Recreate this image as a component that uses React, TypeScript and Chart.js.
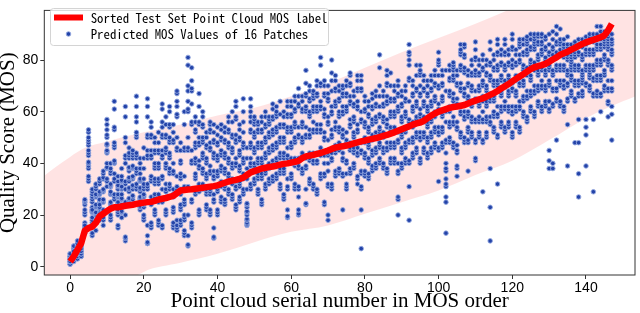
import React, { useEffect, useRef } from "react";
import { Chart, registerables } from "chart.js";

Chart.register(...registerables);

// Sorted MOS label of each test point cloud (index = serial number in MOS order)
const mosLabels: number[] = [
  2, 4, 6.5, 9, 14, 15, 15.5, 17, 19.5, 20.5, 21.5, 22.5, 23, 23, 23.3, 23.6, 23.8, 24, 24.3, 24.6,
  24.8, 25, 25.1, 25.5, 26, 26.3, 26.6, 27, 27.4, 28.5, 29.5, 29.7, 29.9, 30, 30.2, 30.4, 30.6, 30.8, 31, 31.2,
  31.5, 32, 32.5, 33, 33.3, 33.6, 34, 34.5, 35.5, 36.5, 37, 37.5, 38, 38.3, 38.6, 38.8, 39.1, 39.5, 39.8, 40,
  40.3, 40.6, 41, 42, 42.7, 43, 43.3, 43.7, 44, 44.5, 45, 45.6, 46.1, 46.4, 46.6, 46.9, 47.3, 47.7, 48.1, 48.5,
  48.8, 49.2, 49.5, 49.8, 50.2, 50.6, 51, 51.5, 52, 52.6, 53.2, 53.8, 54.3, 55, 55.5, 55.8, 56.5, 57.5, 58.5, 59.3,
  60, 60.5, 61, 61.5, 61.8, 62, 62.3, 62.6, 63.2, 63.8, 64.3, 64.8, 65.2, 65.8, 66.5, 67.2, 68, 69, 69.8, 70.7,
  71.7, 72.7, 73.6, 74.5, 75.5, 76.5, 77.2, 77.6, 78, 78.5, 79.3, 80.2, 81, 82, 82.6, 83.2, 84, 84.7, 85.5, 86.2,
  86.8, 87.3, 87.8, 88.3, 88.8, 89.5, 91.5, 94,
];

// Predicted MOS of the 16 patches of each point cloud
const patchScores: number[][] = [
  [1,1,2,2,2,3,3,3,3,4,4,4,5,5,2,3],
  [2,3,3,4,4,5,5,5,6,6,7,7,8,8,4,6],
  [3,4,4,5,5,6,6,7,7,8,8,9,9,10,6,7],
  [4,4,5,5,6,7,7,8,8,9,9,10,10,6,7,8],
  [13,13.5,14,15,15.5,16,17,20,21,22,24,25,25.5,26,15,16],
  [33,34,35,38,39,40,40.5,43,44,45,47,48,49,50,52,53],
  [12,13,17,18,19,21,21.5,22,23,25,26,27,28,29,30,22],
  [14,17,18,20,20.5,21,23,23.5,24,27,27.5,28,30,31,32,21],
  [18,20,20.5,22,22.5,23,25,25.5,26,28,28.5,29,32,33,34,24],
  [16,18,19,21,21.5,22,25,25.5,26,29,29.5,30,34,34.5,36,37],
  [31,33,34,38,38.5,40,44,44.5,45,47,47.5,50,51,53,55,57],
  [18,19,20,24,24.5,25,28,28.5,29,31,31.5,32,36,37,38,40],
  [26,27,28,33,34,36,40,40.5,41,46,47,48,53,54,61,64],
  [15,16,20,21,22,24,24.5,25,27,27.5,28,30,31,31.5,33,35],
  [19,21,21.5,23,23.5,24,26,26.5,28,30,30.5,31,33,33.5,35,38],
  [10,11,11.5,20,24,25,30,32,33,40,42,43,48,50,58,62],
  [25,26,26.5,29,30,30.5,33,34,34.5,37,38,38.5,42,43,44,46],
  [26,27,27.5,30,31,31.5,34,34.5,35,38,38.5,39,42,43,44,45],
  [30,31,32,36,37,38,42,43,44,50,51,52,56,58,62,66],
  [22,23,23.5,26,26.5,27,29,30,30.5,33,33.5,34,36,38,40,42],
  [18,19,20,23,24,24.5,27,27.5,28,30,31,32,34,38,42,46],
  [9,9,9.5,12,16,30,31,32,42,43,45,50,51,58,62,65],
  [15,16,17,24,25,27,33,34,35,42,43,45,50,51,54,56],
  [20,21,22,26,27,28,32,33,34,38,39,40,44,45,48,50],
  [16,17,18,25,26,28,32,33,34,38,39,40,44,45,48,52],
  [15,16,25,26,30,34,35,42,43,45,50,51,54,56,61,63],
  [20,21,22,29,30,32,38,39,40,44,45,46,50,51,55,58],
  [30,31,32,36,37,38,42,43,44,48,49,50,54,55,60,62],
  [15,16,17,21,22,23,27,28,30,36,37,40,48,49,52,55],
  [14,15,16,18,30,31,35,45,46,50,58,59,62,64,67,68],
  [16,17,18,22,23,24,28,29,30,34,35,36,40,41,45,48],
  [12,13,14,18,19,20,24,25,26,30,31,35,45,46,55,60],
  [8,8.5,12,20,30,31,45,46,50,60,61,64,68,70,78,81],
  [15,16,17,25,26,30,40,41,45,55,56,63,68,69,72,77],
  [28,29,30,34,35,36,40,41,42,46,47,48,52,53,56,58],
  [20,21,22,29,30,32,38,39,41,47,48,50,55,56,62,67],
  [30,31,32,36,37,38,42,43,44,48,49,50,54,55,58,60],
  [22,23,24,28,29,30,34,35,36,40,41,42,46,47,50,52],
  [20,21,22,28,29,30,36,37,39,45,46,48,52,53,55,56],
  [11,11.5,15,25,26,28,34,35,37,42,43,44,48,49,52,55],
  [20,21,22,29,30,31,35,36,37,41,42,43,47,48,51,54],
  [25,26,27,31,32,33,37,38,39,43,44,45,49,50,53,55],
  [24,25,26,30,31,32,36,37,38,42,43,44,48,49,52,54],
  [28,29,30,34,35,36,40,41,42,46,47,48,52,53,56,58],
  [26,27,28,32,33,34,38,39,40,44,45,46,50,51,56,60],
  [22,23,24,30,31,33,39,40,42,48,49,51,57,58,62,64],
  [25,26,27,31,32,33,37,38,39,43,44,45,49,50,53,55],
  [28,29,30,34,35,36,40,41,42,46,47,48,52,56,60,65],
  [16,16.5,17,18,18.5,20,21,21.5,23,24,24.5,30,34,38,42,46],
  [30,31,32,39,40,42,46,47,48,52,53,56,58,60,62,65],
  [32,33,34,38,39,40,44,45,46,50,51,52,55,56,57,58],
  [28,29,30,34,35,36,40,41,42,46,47,48,52,53,55,56],
  [24,25,26,34,35,36,40,41,42,46,47,48,52,53,56,58],
  [30,31,32,36,37,38,42,43,44,48,49,50,54,55,58,60],
  [32,33,34,38,39,40,44,45,46,50,51,52,55,56,57,58],
  [33,34,35,39,40,41,45,46,47,51,52,53,57,58,61,63],
  [34,35,36,40,41,42,46,47,48,52,53,54,58,59,60,62],
  [30,31,32,36,37,38,42,43,44,48,49,50,54,55,59,64],
  [26,27,28,36,37,38,42,43,44,48,49,50,54,55,58,60],
  [19,19.5,22,30,31,34,42,43,46,52,53,54,58,59,62,64],
  [34,35,36,40,41,42,46,47,48,52,53,54,58,59,62,64],
  [30,31,32,39,40,42,48,49,50,54,55,56,60,61,64,66],
  [20,20.5,22,27,30,31,38,39,42,50,51,54,62,63,66,69],
  [36,37,38,42,43,44,48,49,50,54,55,56,60,61,64,66],
  [24,24.5,30,38,39,42,50,51,54,60,61,62,66,67,71,76],
  [32,33,34,41,42,44,50,51,53,58,59,60,64,65,68,70],
  [30,31,32,40,41,44,52,53,56,60,61,62,65,66,67,68],
  [28,29,30,40,41,44,52,53,55,60,61,62,66,67,70,72],
  [34,35,36,43,44,46,52,53,55,61,62,64,70,71,78,81],
  [24,25,35,36,40,43,49,50,52,58,59,61,66,67,70,72],
  [18,20,31,32,37,40,43,44,49,55,56,58,64,65,67,70],
  [30,31,32,41,42,44,50,51,53,59,60,62,68,72,75,80],
  [35,36,37,44,45,47,53,54,56,62,63,64,68,69,72,74],
  [36,37,38,45,46,48,52,53,54,58,59,60,64,65,68,70],
  [22,35,36,41,42,44,50,51,53,59,60,62,66,67,69,70],
  [30,31,32,36,40,41,48,49,52,60,61,62,66,67,70,72],
  [36,37,38,45,46,48,54,55,57,63,64,66,70,71,74,75],
  [38,39,40,44,45,46,50,51,52,56,57,58,62,63,66,68],
  [32,34,35,43,44,46,52,53,55,61,62,64,68,69,72,74],
  [7,22,30,31,36,37,44,45,48,56,57,60,68,69,72,74],
  [35,36,37,42,43,44,48,49,50,54,55,56,60,61,64,66],
  [34,35,36,40,41,42,46,47,48,52,53,54,58,59,62,64],
  [37,38,39,43,44,45,49,50,51,55,56,57,61,62,65,67],
  [38,39,40,44,45,46,50,51,52,56,57,58,62,63,66,68],
  [40,41,42,46,47,48,52,53,54,58,59,62,66,70,77,82],
  [38,39,40,44,45,46,50,51,52,56,57,58,62,63,66,68],
  [36,37,38,45,46,48,54,55,57,63,64,66,70,71,74,76],
  [40,41,42,46,47,48,52,53,54,58,59,60,64,65,70,75],
  [40,41,42,46,47,48,52,53,54,58,59,60,64,65,68,70],
  [20,26,27,36,37,40,48,49,52,60,61,62,66,67,70,72],
  [38,39,40,44,45,46,50,51,52,56,57,58,62,63,66,68],
  [40,41,42,46,47,48,52,53,54,58,59,60,64,65,68,70],
  [18,31,40,41,48,49,56,57,64,72,73,78,80,82,83,86],
  [42,43,44,48,49,50,54,55,56,60,61,62,66,67,70,72],
  [44,45,46,50,51,52,56,57,58,62,63,64,68,69,74,78],
  [40,41,42,49,50,52,58,59,61,66,67,70,74,75,76,78],
  [44,45,46,50,51,52,56,57,58,62,63,64,68,69,72,74],
  [42,43,44,48,49,50,54,55,56,60,61,62,66,67,70,72],
  [44,45,46,50,51,52,56,57,58,62,63,64,68,69,72,74],
  [46,47,48,52,53,54,58,59,60,64,65,66,70,71,74,76],
  [33,45,46,51,52,54,60,61,63,69,70,74,78,79,80,83],
  [46,47,48,52,53,54,58,59,60,64,65,66,70,71,74,76],
  [13,25,27,31,32,34,37,38,40,44,48,49,56,60,68,76],
  [48,49,50,54,55,56,60,61,62,66,67,68,72,73,76,78],
  [46,47,48,55,56,58,64,65,67,72,73,74,76,77,78,79],
  [35,38,39,44,45,47,53,54,56,62,63,65,70,71,74,76],
  [50,51,52,59,60,62,68,69,71,76,77,78,82,83,84,86],
  [48,49,50,57,58,60,66,67,69,75,76,77,81,82,85,86],
  [37,48,49,52,53,54,58,59,60,64,65,66,70,71,74,76],
  [50,51,52,56,57,58,62,63,64,68,69,70,74,75,78,80],
  [41,42,48,49,56,57,64,65,68,74,75,76,80,81,84,87],
  [50,51,52,56,57,58,62,63,64,68,69,70,74,75,78,80],
  [29,48,49,56,57,60,64,65,66,70,71,72,76,77,80,82],
  [50,51,52,56,57,58,62,63,64,68,69,70,74,75,78,80],
  [10,23,38,55,56,58,64,65,67,72,73,74,78,79,84,87],
  [52,53,54,58,59,60,64,65,66,70,71,72,76,77,80,82],
  [32,50,51,58,59,62,70,71,72,76,77,78,82,83,86,88],
  [54,55,56,60,61,62,66,67,68,72,73,74,78,79,82,84],
  [52,53,54,61,62,64,70,71,72,76,77,78,82,83,86,88],
  [54,55,56,60,61,62,66,67,68,72,73,74,78,79,82,84],
  [50,51,52,59,60,62,68,69,71,77,78,80,84,85,88,90],
  [54,55,56,60,61,62,66,67,68,72,73,74,78,79,82,84],
  [52,53,54,61,62,64,70,71,73,79,80,82,85,86,87,88],
  [58,59,60,64,65,66,70,71,72,76,77,78,82,83,86,88],
  [56,57,58,65,66,68,74,75,77,82,83,84,86,87,88,89],
  [60,61,62,66,67,68,72,73,74,78,79,80,84,85,88,90],
  [58,59,60,67,68,70,76,77,79,84,85,86,87,88,89,90],
  [62,63,64,68,69,70,74,75,76,80,81,82,86,87,89,90],
  [60,61,62,69,70,72,76,77,78,82,83,84,86,87,89,90],
  [62,63,64,68,69,70,74,75,76,79,80,81,84,85,88,89],
  [38,41,45,60,61,64,70,71,72,76,77,78,82,83,86,90],
  [38,40,62,63,68,69,74,75,76,80,81,82,84,85,88,91],
  [49,64,65,68,69,72,76,77,78,81,82,83,86,87,90,93],
  [62,63,64,70,71,72,76,77,78,82,83,84,86,87,88,92],
  [60,61,62,69,70,72,76,77,78,81,82,83,84,85,86,88],
  [39,55,64,65,70,71,74,75,76,80,81,82,84,85,86,89],
  [66,67,68,72,73,74,76,77,78,79,80,81,82,83,84,86],
  [48,64,65,70,71,72,76,77,78,81,82,83,84,85,86,87],
  [27,36,48,57,66,67,70,71,72,76,77,78,82,83,86,88],
  [66,67,68,71,72,73,74,75,76,80,81,82,85,86,87,88],
  [39,51,54,57,70,71,76,77,78,82,83,84,86,87,88,89],
  [68,69,70,73,74,75,76,77,78,82,83,84,87,88,89,90],
  [29,57,66,67,72,73,76,77,78,82,83,84,87,88,89,90],
  [66,67,68,72,73,74,78,79,80,84,85,86,88,89,90,93],
  [60,66,67,72,73,74,78,79,80,84,85,86,88,89,91,93],
  [68,69,70,74,75,76,80,81,82,85,86,87,88,89,90,91],
  [58,63,64,68,69,72,78,79,80,84,85,86,87,88,89,90],
  [49,59,62,68,69,72,76,77,78,82,83,84,86,87,88,90],
];

// Light red confidence band (read at sample positions)
const bandX: number[] = [-9, -4, 0, 4, 10, 20, 30, 40, 50, 60, 70, 80, 90, 100, 110, 120, 130, 140, 150, 157];
const bandUpper: number[] = [33, 38.5, 42.5, 46, 48.5, 52, 55, 58.5, 61.5, 66, 71, 77, 83, 88.5, 94, 100, 106, 112, 118, 122];
const bandLower: number[] = [-40, -34, -28, -20, -12, -2, 1.5, 5, 9.5, 13.5, 16, 20.5, 25, 29.5, 35.5, 41, 49, 57.5, 64, 68];

const xTickValues: number[] = [0, 20, 40, 60, 80, 100, 120, 140];
const yTickValues: number[] = [0, 20, 40, 60, 80];

const legendLabels = ["Sorted Test Set Point Cloud MOS label", "Predicted MOS Values of 16 Patches"];

const MARKER_FILL = "#2343a8";
const MARKER_EDGE = "rgba(150,170,225,0.9)";

const framePlugin = {
  id: "frameAndLegend",
  afterDraw(chart: any) {
    const { ctx, chartArea } = chart;
    ctx.save();
    ctx.strokeStyle = "#333";
    ctx.lineWidth = 1;
    ctx.strokeRect(chartArea.left, chartArea.top, chartArea.right - chartArea.left, chartArea.bottom - chartArea.top);

    const bx = 50.5, by = 8.5, bw = 278, bh = 37, r = 3;
    ctx.beginPath();
    ctx.moveTo(bx + r, by);
    ctx.lineTo(bx + bw - r, by);
    ctx.arcTo(bx + bw, by, bx + bw, by + r, r);
    ctx.lineTo(bx + bw, by + bh - r);
    ctx.arcTo(bx + bw, by + bh, bx + bw - r, by + bh, r);
    ctx.lineTo(bx + r, by + bh);
    ctx.arcTo(bx, by + bh, bx, by + bh - r, r);
    ctx.lineTo(bx, by + r);
    ctx.arcTo(bx, by, bx + r, by, r);
    ctx.closePath();
    ctx.fillStyle = "rgba(255,255,255,0.8)";
    ctx.fill();
    ctx.strokeStyle = "#d4d4d4";
    ctx.lineWidth = 1;
    ctx.stroke();

    ctx.beginPath();
    ctx.strokeStyle = "#ff0000";
    ctx.lineWidth = 6;
    ctx.moveTo(54, 17.5);
    ctx.lineTo(83, 17.5);
    ctx.stroke();

    ctx.beginPath();
    ctx.arc(68.5, 34, 2.3, 0, Math.PI * 2);
    ctx.fillStyle = MARKER_FILL;
    ctx.fill();
    ctx.strokeStyle = MARKER_EDGE;
    ctx.lineWidth = 1;
    ctx.stroke();

    ctx.fillStyle = "#000";
    ctx.font = '12.8px "Noto Sans Mono CJK SC", "Liberation Mono", monospace';
    ctx.textBaseline = "middle";
    ctx.textAlign = "left";
    ctx.fillText(legendLabels[0], 90.7, 17.8);
    ctx.fillText(legendLabels[1], 90.7, 34.3);
    ctx.restore();
  },
};

export default function App() {
  const canvasRef = useRef<HTMLCanvasElement | null>(null);

  useEffect(() => {
    if (!canvasRef.current) return;
    const scatterPts: { x: number; y: number }[] = [];
    patchScores.forEach((vals, i) => vals.forEach((v) => scatterPts.push({ x: i, y: v })));
    const linePts = mosLabels.map((v, i) => ({ x: i, y: v }));
    const lowerPts = bandX.map((x, i) => ({ x, y: bandLower[i] }));
    const upperPts = bandX.map((x, i) => ({ x, y: bandUpper[i] }));

    const tickFont = { family: '"Liberation Sans", Arial, sans-serif', size: 14 };
    const titleFont = { family: '"Liberation Serif", "Times New Roman", serif', size: 21, lineHeight: 1 };

    const chart = new Chart(canvasRef.current, {
      type: "scatter",
      data: {
        datasets: [
          {
            type: "line",
            label: "bandLower",
            data: lowerPts,
            borderWidth: 0,
            pointRadius: 0,
            fill: false,
            tension: 0.4,
            cubicInterpolationMode: "monotone",
            order: 4,
          } as any,
          {
            type: "line",
            label: "bandUpper",
            data: upperPts,
            borderWidth: 0,
            pointRadius: 0,
            fill: "-1",
            backgroundColor: "rgba(255,0,0,0.11)",
            tension: 0.4,
            cubicInterpolationMode: "monotone",
            order: 3,
          } as any,
          {
            label: legendLabels[1],
            data: scatterPts,
            pointRadius: 2.3,
            pointBackgroundColor: MARKER_FILL,
            pointBorderColor: MARKER_EDGE,
            pointBorderWidth: 1,
            order: 1,
          } as any,
          {
            type: "line",
            label: legendLabels[0],
            data: linePts,
            borderColor: "#ff0000",
            borderWidth: 6.5,
            pointRadius: 0,
            fill: false,
            tension: 0,
            borderJoinStyle: "round",
            order: 0,
          } as any,
        ],
      },
      options: {
        responsive: false,
        animation: false,
        devicePixelRatio: 1,
        layout: { padding: { top: 1.7, right: 2.7, left: 0, bottom: 0 } },
        plugins: {
          legend: { display: false },
          tooltip: { enabled: false },
          filler: { drawTime: "beforeDatasetsDraw" },
        } as any,
        scales: {
          x: {
            type: "linear",
            min: -7,
            max: 153.3,
            afterBuildTicks: (s: any) => {
              s.ticks = xTickValues.map((v) => ({ value: v }));
            },
            afterFit: (s: any) => {
              s.height = 38;
            },
            grid: { display: true, drawOnChartArea: false, drawTicks: true, tickLength: 4, tickColor: "#333" },
            border: { display: false },
            ticks: { padding: 1, color: "#000", font: tickFont, maxRotation: 0, autoSkip: false },
            title: {
              display: true,
              text: "Point cloud serial number in MOS order",
              color: "#000",
              font: titleFont,
              padding: { top: 0, bottom: 1 },
            },
          },
          y: {
            type: "linear",
            min: -3.2,
            max: 99.2,
            afterBuildTicks: (s: any) => {
              s.ticks = yTickValues.map((v) => ({ value: v }));
            },
            afterFit: (s: any) => {
              s.width = 44.3;
            },
            grid: { display: true, drawOnChartArea: false, drawTicks: true, tickLength: 4, tickColor: "#333" },
            border: { display: false },
            ticks: { padding: 2, color: "#000", font: tickFont, autoSkip: false },
            title: {
              display: true,
              text: "Quality Score (MOS)",
              color: "#000",
              font: titleFont,
              padding: { top: -2, bottom: 0 },
            },
          },
        },
      } as any,
      plugins: [framePlugin],
    });
    return () => chart.destroy();
  }, []);

  return (
    <div style={{ position: "absolute", left: 0, top: 0, width: 640, height: 313, background: "#fff" }}>
      <canvas ref={canvasRef} width={640} height={313} style={{ display: "block" }} />
    </div>
  );
}
